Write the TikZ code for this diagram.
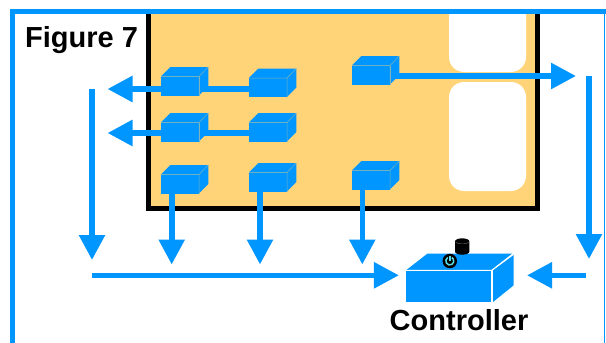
\documentclass[tikz,border=0pt]{standalone}
\usepackage{fontspec}
\setmainfont{Liberation Sans}
\usetikzlibrary{arrows.meta,shapes.geometric,calc}
\definecolor{bluec}{HTML}{0096FF}
\definecolor{orangec}{HTML}{FFD479}
\definecolor{cyanc}{HTML}{55DCE6}
\definecolor{edgec}{HTML}{7FB4BC}
\tikzset{
  x=1pt,y=-1pt,
  frontface/.style={fill=bluec,draw=none,inner sep=0pt,outer sep=0pt,minimum width=38pt,minimum height=19pt},
  flow/.style={draw=bluec,line width=5.6pt},
  flowtip/.style={flow,-{Triangle[length=25pt,width=25pt]}},
  label/.style={font=\bfseries\fontsize{29}{29}\selectfont,text=black,inner sep=0pt,anchor=base},
}
\newcommand{\boxcube}[3]{%
  \node[frontface] (#1) at (#2,#3) {};
  \fill[bluec] (#1.north west) -- ++(9.3,-9.5) -- ++(38,0) -- ++(0,19) -- (#1.south east) -- (#1.north east) -- cycle;
  \draw[edgec,line width=0.5pt] (#1.north west) -- (#1.north east) -- (#1.south east) (#1.north east) -- ++(9.3,-9.5);
}
\begin{document}
\begin{tikzpicture}
\useasboundingbox (0,0) rectangle (606,343);
\fill[white] (0,0) rectangle (606,343);
% board
\fill[orangec] (148.5,14) rectangle (537.5,208.5);
\draw[black,line width=5.2pt] (148.5,12) -- (148.5,208.5) -- (537.5,208.5) -- (537.5,12);
\fill[white,rounded corners=15pt] (449,0) rectangle (526,72);
\fill[white,rounded corners=15pt] (449,82) rectangle (526,191);
\coordinate (t1) at (107.5,89);
\coordinate (t2) at (107.5,133);
\coordinate (t3) at (576,76);
\coordinate (v1s) at (92,89);
\coordinate (v1e) at (92,260);
\coordinate (v2s) at (589,76);
\coordinate (v2e) at (589,259);
\coordinate (c1e) at (171.7,264.5);
\coordinate (c2e) at (260,264.5);
\coordinate (d2e) at (362.3,264.5);
\coordinate (hs) at (92,275.3);
\coordinate (rs) at (585.7,275.3);
% cubes
\boxcube{a1}{180}{86}
\boxcube{a2}{268}{87.5}
\boxcube{b1}{180}{132}
\boxcube{b2}{268}{132}
\boxcube{c1}{180}{184}
\boxcube{c2}{268}{182}
\boxcube{d1}{371}{75}
\boxcube{d2}{371}{180}
% controller
\node[fill=bluec,inner sep=0pt,outer sep=0pt,minimum width=85.7pt,minimum height=31.7pt] (ctrl) at (448.8,286.2) {};
\fill[bluec] (ctrl.north west) -- (427.3,253.7) -- (512.3,253.7) -- (491.7,270.3) -- cycle;
\fill[bluec] (493,270.3) -- (513.7,255) -- (513.7,285.3) -- (493,302) -- cycle;
\draw[white,line width=1pt] (ctrl.north west) -- (ctrl.north east) -- (ctrl.south east) (ctrl.north east) -- (512.8,254);
% cylinder
\fill[black] (455,241.5) arc[start angle=180,end angle=0,x radius=7.2pt,y radius=3.2pt] -- (469.4,251.5) arc[start angle=0,end angle=-180,x radius=7.2pt,y radius=3.2pt] -- cycle;
\draw[black!60,line width=0.4pt] (455.6,242) arc[start angle=180,end angle=360,x radius=6.6pt,y radius=1.8pt];
% power
\node[circle,fill=black,inner sep=0pt,minimum size=14.5pt] (pwr) at (449.8,261) {};
\draw[cyanc,line width=1.5pt] (447.8,257.5) arc[start angle=120,end angle=420,radius=4pt];
\draw[cyanc,line width=1.5pt] (449.8,255.8) -- (449.8,261);
% connectors
\draw[flowtip] ($(a1.west)+(0,3)$) -- (t1);
\draw[flow] ($(a1.east)+(0,3)$) -- (a2.west |- t1);
\draw[flowtip] ($(b1.west)+(0,1)$) -- (t2);
\draw[flow] ($(b1.east)+(0,1)$) -- (b2.west |- t2);
\draw[flowtip] ($(d1.east)+(2,1)$) -- (t3);
\draw[flowtip] (v1s) -- (v1e);
\draw[flowtip] (v2s) -- (v2e);
\draw[flowtip] (c1e |- c1.south) -- (c1e);
\draw[flowtip] (c2e |- c2.south) -- (c2e);
\draw[flowtip] (d2e |- d2.south) -- (d2e);
\draw[flowtip] (hs) -- ($(ctrl.west)+(-7,-10.9)$);
\draw[flowtip] (rs) -- (527,275.3);
\draw[edgec,line width=0.5pt] (a1.north east) -- (a1.south east) (b1.north east) -- (b1.south east) (d1.north east) -- (d1.south east);
% frame
\draw[bluec,line width=5.4pt] (12.6,343) -- (12.6,11.6) -- (606,11.6);
\draw[bluec,line width=0.8pt] (604.8,11.6) -- (604.8,343);
% labels
\node[label] (fig) at (81.5,47) {Figure 7};
\node[label] (ctl) at (459,330) {Controller};
\end{tikzpicture}
\end{document}
